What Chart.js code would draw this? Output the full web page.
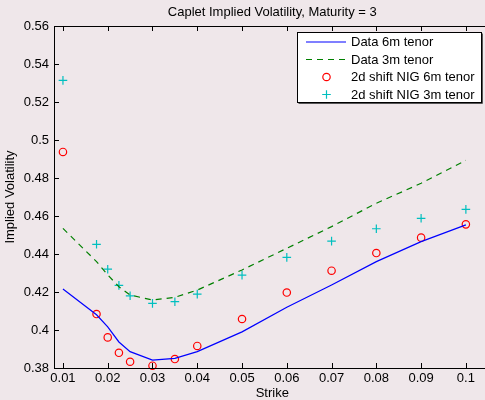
<!DOCTYPE html>
<html lang="en">
  <head>
    <meta charset="UTF-8" />
    <title>Caplet Implied Volatility</title>
    <script src="https://cdn.jsdelivr.net/npm/chart.js"></script>
    <style>
      html, body { margin: 0; padding: 0; background: #efe7ea; overflow: hidden; }
      #wrap { width: 496px; height: 400px; }
    </style>
  </head>
  <body>
    <div id="wrap"><canvas id="myChart" width="496" height="400"></canvas></div>

    <script>
      const strikes = [0.01, 0.0175, 0.02, 0.0225, 0.025, 0.03, 0.035, 0.04, 0.05, 0.06, 0.07, 0.08, 0.09, 0.1];
      const data6m = [0.4216, 0.408, 0.4017, 0.3937, 0.3886, 0.3842, 0.3851, 0.3886, 0.399, 0.412, 0.4237, 0.436, 0.4465, 0.4553];
      const data3m = [0.4535, 0.436, 0.429, 0.4228, 0.4184, 0.4158, 0.4172, 0.421, 0.4316, 0.443, 0.4544, 0.4667, 0.4772, 0.4893];
      const nig6m = [0.4937, 0.4084, 0.3961, 0.388, 0.3833, 0.3812, 0.3847, 0.3916, 0.4058, 0.4197, 0.4312, 0.4405, 0.4486, 0.4556];
      const nig3m = [0.5314, 0.4451, 0.432, 0.4235, 0.418, 0.414, 0.4149, 0.4189, 0.4289, 0.4382, 0.4468, 0.4533, 0.4588, 0.4635];
      const xTicks = [0.01, 0.02, 0.03, 0.04, 0.05, 0.06, 0.07, 0.08, 0.09, 0.1];
      const yTicks = [0.38, 0.4, 0.42, 0.44, 0.46, 0.48, 0.5, 0.52, 0.54, 0.56];

      const pts = (arr) => strikes.map((s, i) => ({ x: s, y: arr[i] }));
      const fmt = (v) => String(Number(v.toFixed(4)));

      Chart.defaults.font.family = '"Liberation Sans", Arial, sans-serif';
      Chart.defaults.font.size = 13;
      Chart.defaults.color = "#000";

      // matlab style box, inward ticks and legend
      const matlabAxes = {
        id: "matlabAxes",
        afterDraw(chart) {
          const { ctx, chartArea: a, scales } = chart;
          const x = scales.x, y = scales.y;
          ctx.save();
          ctx.strokeStyle = "#000";
          ctx.lineWidth = 1;
          ctx.beginPath();
          xTicks.forEach((v) => {
            const px = Math.round(x.getPixelForValue(v)) + 0.5;
            ctx.moveTo(px, a.bottom);
            ctx.lineTo(px, a.bottom - 5);
            ctx.moveTo(px, a.top);
            ctx.lineTo(px, a.top + 5);
          });
          yTicks.forEach((v) => {
            const py = Math.round(y.getPixelForValue(v)) + 0.5;
            ctx.moveTo(a.left, py);
            ctx.lineTo(a.left + 5, py);
            ctx.moveTo(a.right, py);
            ctx.lineTo(a.right - 5, py);
          });
          ctx.stroke();
          ctx.strokeRect(a.left + 0.5, a.top + 0.5, a.right - a.left - 1, a.bottom - a.top);

          // legend
          const lx = 297.5, ly = 32.5, lw = 184, lh = 70;
          ctx.fillStyle = "#fff";
          ctx.fillRect(lx, ly, lw, lh);
          ctx.strokeRect(lx, ly, lw, lh);
          ctx.beginPath();
          ctx.moveTo(lx + lw + 1, ly + 1);
          ctx.lineTo(lx + lw + 1, ly + lh + 1);
          ctx.lineTo(lx + 1, ly + lh + 1);
          ctx.strokeStyle = "#555";
          ctx.stroke();

          ctx.font = '13px "Liberation Sans", Arial, sans-serif';
          ctx.textBaseline = "middle";
          chart.data.datasets.forEach((ds, i) => {
            const ry = 42 + i * 17.5;
            ctx.strokeStyle = ds.borderColor;
            ctx.lineWidth = ds.borderWidth || 1;
            ctx.setLineDash(ds.borderDash || []);
            if (ds.showLine) {
              ctx.beginPath();
              ctx.moveTo(306, ry);
              ctx.lineTo(346, ry);
              ctx.stroke();
            } else {
              ctx.setLineDash([]);
              ctx.lineWidth = ds.pointBorderWidth;
              ctx.beginPath();
              if (ds.pointStyle === "circle") {
                ctx.arc(326.5, ry, ds.pointRadius, 0, Math.PI * 2);
              } else {
                ctx.moveTo(326.5 - ds.pointRadius, ry);
                ctx.lineTo(326.5 + ds.pointRadius, ry);
                ctx.moveTo(326.5, ry - ds.pointRadius);
                ctx.lineTo(326.5, ry + ds.pointRadius);
              }
              ctx.strokeStyle = ds.pointBorderColor;
              ctx.stroke();
            }
            ctx.setLineDash([]);
            ctx.fillStyle = "#000";
            ctx.fillText(ds.label, 351, ry + 0.5);
          });
          ctx.restore();
        },
      };

      const config = {
        type: "scatter",
        data: {
          datasets: [
            {
              label: "Data 6m tenor",
              data: pts(data6m),
              showLine: true,
              borderColor: "#0000ff",
              borderWidth: 1.2,
              pointRadius: 0,
              clip: false,
            },
            {
              label: "Data 3m tenor",
              data: pts(data3m),
              showLine: true,
              borderColor: "#008000",
              borderWidth: 1.2,
              borderDash: [6, 5],
              pointRadius: 0,
              clip: false,
            },
            {
              label: "2d shift NIG 6m tenor",
              data: pts(nig6m),
              showLine: false,
              pointStyle: "circle",
              pointRadius: 3.7,
              pointBorderWidth: 1.2,
              pointBorderColor: "#ff0000",
              pointBackgroundColor: "rgba(0,0,0,0)",
              borderColor: "#ff0000",
              clip: false,
            },
            {
              label: "2d shift NIG 3m tenor",
              data: pts(nig3m),
              showLine: false,
              pointStyle: "cross",
              pointRadius: 4.3,
              pointBorderWidth: 1.2,
              pointBorderColor: "#00bfbf",
              pointBackgroundColor: "rgba(0,0,0,0)",
              borderColor: "#00bfbf",
              clip: false,
            },
          ],
        },
        options: {
          responsive: false,
          animation: false,
          devicePixelRatio: 1,
          layout: { padding: { left: 4, right: 0, top: 0, bottom: 0 } },
          plugins: {
            legend: { display: false },
            tooltip: { enabled: false },
            title: {
              display: true,
              text: "Caplet Implied Volatility, Maturity = 3",
              fullSize: false,
              font: { size: 13, weight: "normal" },
              padding: { top: 5, bottom: 5.4 },
            },
          },
          scales: {
            x: {
              type: "linear",
              min: 0.008,
              max: 0.1055,
              afterBuildTicks: (s) => { s.ticks = xTicks.map((v) => ({ value: v })); },
              afterFit: (s) => { s.height = 32; s.paddingLeft = 0; s.paddingRight = 0; },
              grid: { display: false, drawTicks: false },
              border: { display: false },
              ticks: { padding: 3, maxRotation: 0, autoSkip: false, callback: fmt },
              title: { display: true, text: "Strike", font: { lineHeight: 1 }, padding: 0 },
            },
            y: {
              type: "linear",
              min: 0.38,
              max: 0.56,
              afterBuildTicks: (s) => { s.ticks = yTicks.map((v) => ({ value: v })); },
              afterFit: (s) => { s.width = 50; s.paddingTop = 0; s.paddingBottom = 0; },
              grid: { display: false, drawTicks: false },
              border: { display: false },
              ticks: { padding: 5, autoSkip: false, callback: fmt },
              title: { display: true, text: "Implied Volatility", font: { lineHeight: 1 }, padding: 0 },
            },
          },
        },
        plugins: [matlabAxes],
      };

      const myChart = new Chart(document.getElementById("myChart"), config);
    </script>
  </body>
</html>
